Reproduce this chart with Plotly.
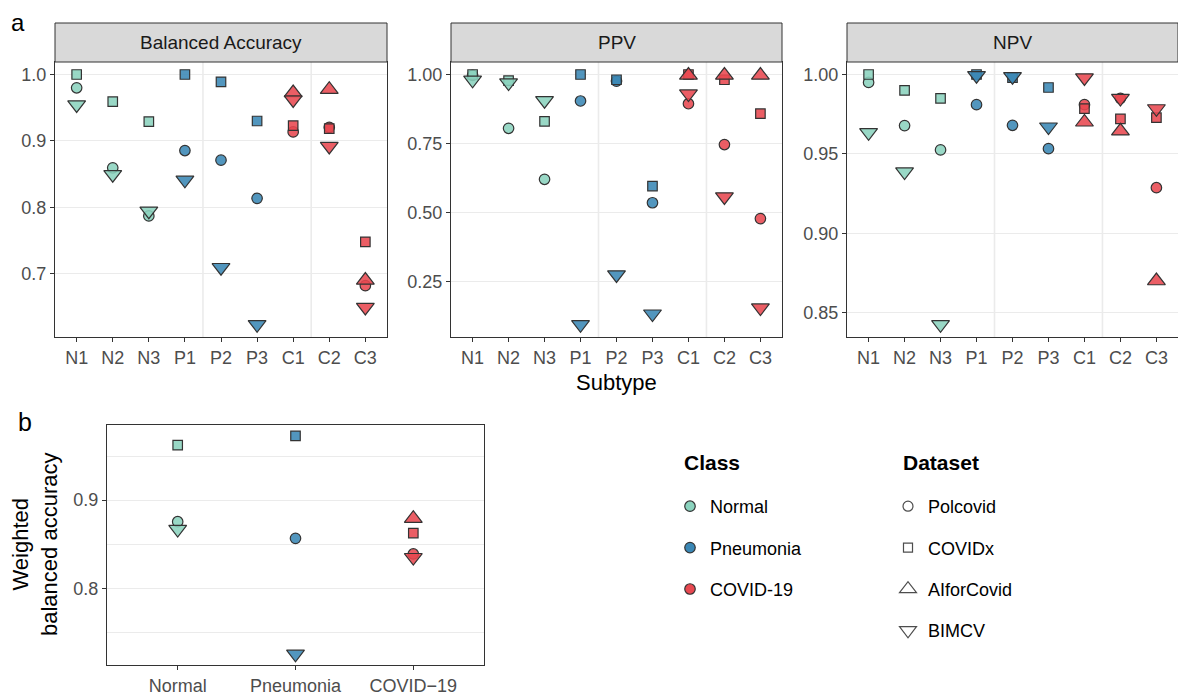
import plotly.graph_objects as go

OFF = 8  # page body margin in the browser
W, H = 1186 - OFF, 697 - OFF

subtypes = ["N1", "N2", "N3", "P1", "P2", "P3", "C1", "C2", "C3"]
subtype_class = ["Normal"] * 3 + ["Pneumonia"] * 3 + ["COVID-19"] * 3
classes = ["Normal", "Pneumonia", "COVID-19"]
class_ticklabels = ["Normal", "Pneumonia", "COVID\u221219"]
datasets = ["Polcovid", "COVIDx", "AIforCovid", "BIMCV"]
metrics = ["Balanced Accuracy", "PPV", "NPV"]

# Balanced accuracy per subtype
ba_polcovid = [0.980, 0.8595, 0.787, 0.8855, 0.871, 0.8135, 0.9135, 0.9205, 0.682]
ba_covidx = [1.000, 0.959, 0.929, 1.000, 0.989, 0.930, 0.923, 0.9185, 0.748]
ba_aiforcovid = [None, None, None, None, None, None, 0.9725, 0.9775, 0.690]
ba_bimcv = [0.9545, 0.8495, 0.7945, 0.841, 0.7095, 0.6235, 0.962, 0.892, 0.6495]

# PPV per subtype
ppv_polcovid = [0.997, 0.805, 0.620, 0.904, 0.976, 0.535, 0.894, 0.746, 0.4775]
ppv_covidx = [1.000, 0.978, 0.830, 1.000, 0.981, 0.5955, 1.000, 0.981, 0.858]
ppv_aiforcovid = [None, None, None, None, None, None, 0.997, 0.997, 0.997]
ppv_bimcv = [0.980, 0.970, 0.906, 0.0935, 0.274, 0.132, 0.930, 0.557, 0.154]

# NPV per subtype
npv_polcovid = [0.995, 0.9678, 0.9525, 0.981, 0.968, 0.9533, 0.981, 0.985, 0.9287]
npv_covidx = [1.000, 0.990, 0.985, 1.000, 0.998, 0.9918, 0.9785, 0.972, 0.9728]
npv_aiforcovid = [None, None, None, None, None, None, 0.970, 0.9644, 0.870]
npv_bimcv = [0.9634, 0.9387, 0.8425, 0.9994, 0.9987, 0.967, 0.998, 0.985, 0.9785]

# Weighted balanced accuracy per class
wba_polcovid = [0.8755, 0.8566, 0.8389]
wba_covidx = [0.9623, 0.9728, 0.8626]
wba_aiforcovid = [None, None, 0.8792]
wba_bimcv = [0.8668, 0.7253, 0.835]

metric_data = {
    "Balanced Accuracy": [ba_polcovid, ba_covidx, ba_aiforcovid, ba_bimcv],
    "PPV": [ppv_polcovid, ppv_covidx, ppv_aiforcovid, ppv_bimcv],
    "NPV": [npv_polcovid, npv_covidx, npv_aiforcovid, npv_bimcv],
}
wba_data = [wba_polcovid, wba_covidx, wba_aiforcovid, wba_bimcv]

# styles
class_color = {"Normal": "rgba(139,211,190,0.88)", "Pneumonia": "rgba(58,135,181,0.88)",
               "COVID-19": "rgba(232,72,80,0.88)"}
class_color_solid = {"Normal": "#8BD3BE", "Pneumonia": "#3A87B5", "COVID-19": "#E84850"}
ds_symbol = {"Polcovid": "circle", "COVIDx": "square", "AIforCovid": "triangle-up",
             "BIMCV": "triangle-down"}
ds_size = {"Polcovid": 10.5, "COVIDx": 9.5, "AIforCovid": 15.5, "BIMCV": 15.5}
EDGE = "#333333"
FONT = "Liberation Sans"

def px_x(p):
    return (p - OFF) / W

def px_y(p):
    return 1 - (p - OFF) / H

def erange(lists):
    vals = [v for l in lists for v in l if v is not None]
    lo, hi = min(vals), max(vals)
    pad = (hi - lo) * 0.05
    return [lo - pad, hi + pad]

fig = go.Figure()

panel_x = [(55, 387), (451, 782), (847, 1178)]
panel_y = (62, 337)
strip_y = (23, 62)
yticks = {
    "Balanced Accuracy": ([0.7, 0.8, 0.9, 1.0], ["0.7", "0.8", "0.9", "1.0"]),
    "PPV": ([0.25, 0.5, 0.75, 1.0], ["0.25", "0.50", "0.75", "1.00"]),
    "NPV": ([0.85, 0.9, 0.95, 1.0], ["0.85", "0.90", "0.95", "1.00"]),
}

axis_common = dict(showline=True, linecolor=EDGE, linewidth=1, mirror=True,
                   ticks="outside", ticklen=4, tickwidth=1.2, tickcolor=EDGE,
                   tickfont=dict(family=FONT, size=18, color="#4D4D4D"),
                   zeroline=False)

for i, m in enumerate(metrics):
    ax = "" if i == 0 else str(i + 1)
    for d, ds in enumerate(datasets):
        vals = metric_data[m][d]
        fig.add_trace(go.Scatter(
            x=subtypes, y=vals, mode="markers", showlegend=False,
            xaxis="x" + ax, yaxis="y" + ax, hoverinfo="x+y+name", name=ds,
            marker=dict(symbol=ds_symbol[ds], size=ds_size[ds],
                        color=[class_color[c] for c in subtype_class],
                        line=dict(color=EDGE, width=1.2)),
        ))
    x0, x1 = panel_x[i]
    fig.layout["xaxis" + ax] = dict(
        domain=[px_x(x0), px_x(x1)], anchor="y" + ax, type="category",
        categoryorder="array", categoryarray=subtypes, range=[-0.6, 8.6],
        showgrid=False, **axis_common)
    tv, tt = yticks[m]
    fig.layout["yaxis" + ax] = dict(
        domain=[px_y(panel_y[1]), px_y(panel_y[0])], anchor="x" + ax,
        range=erange(metric_data[m]), tickvals=tv, ticktext=tt,
        showgrid=True, gridcolor="#EBEBEB", gridwidth=1.4, **axis_common)
    for xv in (3.5, 6.5):
        fig.add_shape(type="line", xref="x" + ax, yref="y" + ax + " domain",
                      x0=xv, x1=xv, y0=0, y1=1, layer="below",
                      line=dict(color="#EBEBEB", width=1.6))
    fig.add_shape(type="rect", xref="paper", yref="paper",
                  x0=px_x(x0), x1=px_x(x1), y0=px_y(strip_y[1]), y1=px_y(strip_y[0]),
                  fillcolor="#D9D9D9", line=dict(color=EDGE, width=1))
    fig.add_annotation(text=m, xref="paper", yref="paper",
                       x=px_x((x0 + x1) / 2), y=px_y(sum(strip_y) / 2),
                       showarrow=False, xanchor="center", yanchor="middle",
                       font=dict(family=FONT, size=19, color="#1A1A1A"))

# panel b
for d, ds in enumerate(datasets):
    fig.add_trace(go.Scatter(
        x=classes, y=wba_data[d], mode="markers", showlegend=False,
        xaxis="x4", yaxis="y4", name=ds,
        marker=dict(symbol=ds_symbol[ds], size=ds_size[ds],
                    color=[class_color[c] for c in classes],
                    line=dict(color=EDGE, width=1.2)),
    ))
fig.layout["xaxis4"] = dict(
    domain=[px_x(107), px_x(484)], anchor="y4", type="category",
    categoryorder="array", categoryarray=classes, range=[-0.6, 2.6],
    tickvals=classes, ticktext=class_ticklabels, showgrid=False, **axis_common)
fig.layout["yaxis4"] = dict(
    domain=[px_y(665), px_y(425)], anchor="x4", range=erange(wba_data),
    tickvals=[0.8, 0.9], ticktext=["0.8", "0.9"],
    showgrid=True, gridcolor="#EBEBEB", gridwidth=1.4,
    minor=dict(tickvals=[0.75, 0.85, 0.95], showgrid=True, gridcolor="#EBEBEB",
               gridwidth=0.7, ticks=""),
    **axis_common)

# legend entries (dummy traces)
for k, c in enumerate(classes):
    fig.add_trace(go.Scatter(
        x=[None], y=[None], mode="markers", name=c, legend="legend",
        legendgroup="c" + str(k), xaxis="x4", yaxis="y4",
        marker=dict(symbol="circle", size=10.5, color=class_color_solid[c],
                    line=dict(color=EDGE, width=1.2))))
for k, ds in enumerate(datasets):
    fig.add_trace(go.Scatter(
        x=[None], y=[None], mode="markers", name=ds, legend="legend2",
        legendgroup="d" + str(k), xaxis="x4", yaxis="y4",
        marker=dict(symbol=ds_symbol[ds], size=ds_size[ds] * 0.95, color="white",
                    line=dict(color="#4D4D4D", width=1.2))))

leg_common = dict(xanchor="left", yanchor="top", bgcolor="rgba(0,0,0,0)",
                  borderwidth=0, tracegroupgap=15, itemsizing="trace",
                  font=dict(family=FONT, size=18, color="#000000"))
fig.update_layout(
    legend=dict(x=px_x(670), y=px_y(488), **leg_common),
    legend2=dict(x=px_x(888), y=px_y(488), **leg_common),
)

# titles and labels
def label(text, x, y, size, bold=False, angle=0, color="#000000", xanchor="center",
          yanchor="middle"):
    fig.add_annotation(text=("<b>%s</b>" % text) if bold else text, xref="paper", yref="paper",
                       x=px_x(x), y=px_y(y), showarrow=False, xanchor=xanchor,
                       yanchor=yanchor, textangle=angle, borderpad=0,
                       font=dict(family=FONT, size=size, color=color))

label("a", 18, 8, 24, yanchor="top")
label("b", 25, 422, 25)
label("Subtype", 616.5, 383, 22)
label("Weighted<br>balanced accuracy", 35, 545, 22, angle=-90)
label("Class", 683, 462, 21, bold=True, xanchor="left")
label("Dataset", 902, 462, 21, bold=True, xanchor="left")

fig.update_layout(width=W, height=H, autosize=False,
                  margin=dict(l=0, r=0, t=0, b=0),
                  paper_bgcolor="white", plot_bgcolor="white",
                  font=dict(family=FONT))

fig.write_html("out.html")
